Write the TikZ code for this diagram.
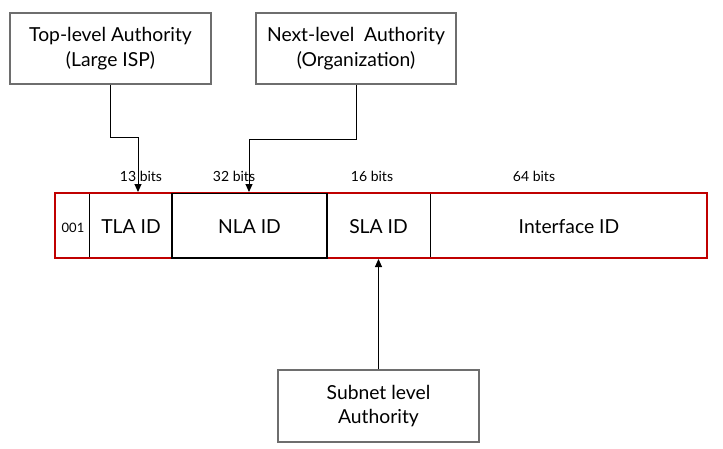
\documentclass[tikz,border=0pt]{standalone}
\usepackage{fontspec}
\setmainfont{Lato}
\usetikzlibrary{arrows.meta}
\definecolor{boxgray}{RGB}{110,110,110}
\definecolor{fieldred}{RGB}{192,0,0}
\begin{document}
\begin{tikzpicture}[x=1pt,y=-1pt,
  authbox/.style={draw=boxgray,line width=1.3pt,fill=white,align=center,
    font=\fontsize{19.3}{24.5}\selectfont,inner sep=0pt},
  fieldtext/.style={font=\fontsize{19.3}{23}\selectfont},
  bitstext/.style={font=\fontsize{14}{16}\selectfont},
  link/.style={line width=1pt,-{Triangle[length=8pt,width=7pt]}}]
\useasboundingbox (0,0) rectangle (723,448);
% authority boxes
\node[authbox,minimum width=201pt,minimum height=71pt] (tla) at (110.5,48.5) {Top-level Authority\\(Large ISP)};
\node[authbox,minimum width=200pt,minimum height=71pt] (nla) at (356,48.5) {Next-level\ \ Authority\\(Organization)};
\node[authbox,minimum width=201pt,minimum height=72pt] (sla) at (378.5,406) {Subnet level\\Authority};
% address fields
\coordinate (fTL) at (55,193);
\coordinate (fBR) at (707,258);
\draw[line width=0.8pt] (89.5,193) -- (89.5,258);
\draw[line width=0.8pt] (430,193) -- (430,258);
\draw[fieldred,line width=2.4pt] (fTL) rectangle (fBR);
\draw[line width=1.3pt] (172,193.5) rectangle (327,258);
\node[font=\fontsize{13}{15}\selectfont] (f001) at (73,228) {001};
\node[fieldtext] (ftla) at (131,227) {TLA ID};
\node[fieldtext] (fnla) at (249.5,227) {NLA ID};
\node[fieldtext] (fsla) at (378.5,227) {SLA ID};
\node[fieldtext] (fif) at (569,227) {Interface ID};
% field widths
\node[bitstext] (b13) at (141,176) {13 bits};
\node[bitstext] (b32) at (234,176) {32 bits};
\node[bitstext] (b16) at (372,176) {16 bits};
\node[bitstext] (b64) at (534,176) {64 bits};
% delegation arrows
\coordinate (tlaIn) at (138,192);
\coordinate (nlaIn) at (249,192);
\coordinate (slaIn) at (378.5,259);
\draw[link] (tla.south) -- (110.5,137) -| (tlaIn);
\draw[link] (nla.south) -- (356,139) -| (nlaIn);
\draw[link] (sla.north) -- (slaIn);
\end{tikzpicture}
\end{document}
